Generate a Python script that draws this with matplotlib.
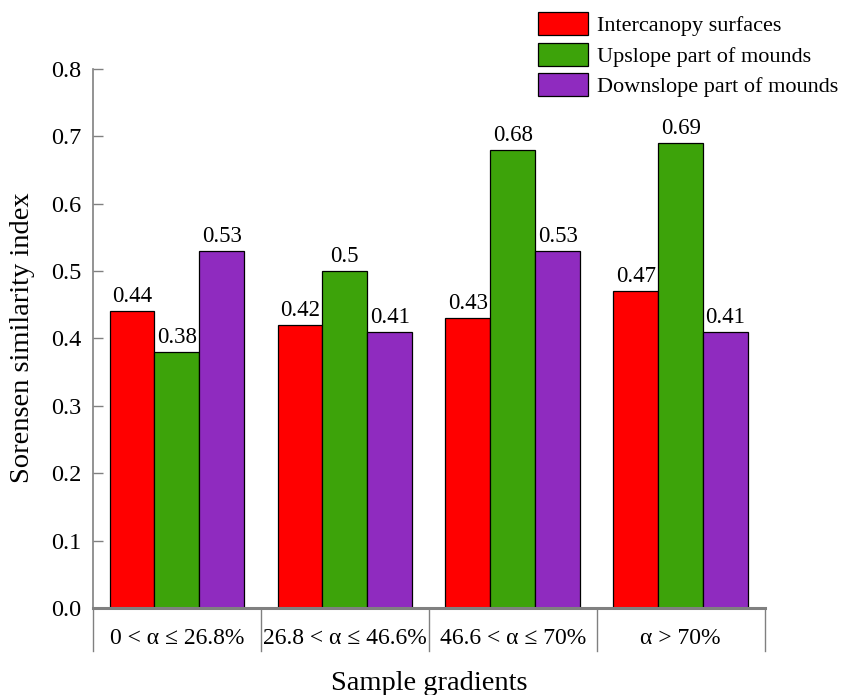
import numpy as np
import matplotlib.pyplot as plt

plt.rcParams['font.family'] = ['Liberation Serif', 'DejaVu Serif']

categories = ['0 < α ≤ 26.8%', '26.8 < α ≤ 46.6%', '46.6 < α ≤ 70%', 'α > 70%']
series_names = ['Intercanopy surfaces', 'Upslope part of mounds', 'Downslope part of mounds']
intercanopy = [0.44, 0.42, 0.43, 0.47]
upslope = [0.38, 0.50, 0.68, 0.69]
downslope = [0.53, 0.41, 0.53, 0.41]
colors = ['#ff0000', '#3da30a', '#8f2bbf']

fig = plt.figure(figsize=(8.44, 6.95), dpi=100)
ax = fig.add_axes([0.110, 0.125, 0.796, 0.776])

x = np.arange(len(categories))
w = 0.267
for i, (vals, name, c) in enumerate(zip([intercanopy, upslope, downslope], series_names, colors)):
    ax.bar(x + (i - 1) * w, vals, w, color=c, edgecolor='black', linewidth=0.9, label=name)
    for xi, v in zip(x + (i - 1) * w, vals):
        ax.text(xi, v + 0.006, '%g' % v, ha='center', va='bottom', fontsize=16.5)

ax.set_xlim(-0.5, len(categories) - 0.5)
ax.set_ylim(0, 0.8)
yt = np.arange(0, 0.81, 0.1)
ax.set_yticks(yt)
ax.set_yticklabels(['%.1f' % t for t in yt])
ax.set_xticks(x)
ax.set_xticklabels(categories)

gray = '#808080'
for s in ['top', 'right']:
    ax.spines[s].set_visible(False)
ax.spines['left'].set_color(gray)
ax.spines['bottom'].set_color(gray)
ax.spines['left'].set_linewidth(1.2)
ax.spines['bottom'].set_linewidth(2.2)
ax.tick_params(axis='y', direction='in', color=gray, length=7, width=1, labelsize=17.5, pad=8)
ax.tick_params(axis='x', length=0, labelsize=17, pad=14)

# category separators below the axis
for sx in np.arange(-0.5, len(categories), 1.0):
    ax.plot([sx, sx], [0, -0.064], color=gray, lw=1, clip_on=False)

fig.text(23 / 844, 1 - 338 / 695, 'Sorensen similarity index', fontsize=20.5,
         rotation=90, ha='center', va='center')
fig.text(0.508, 0.007, 'Sample gradients', fontsize=20.5, ha='center', va='baseline')

fig.legend(loc='upper right', bbox_to_anchor=(838 / 844, 1 - 12 / 695), fontsize=16, frameon=False,
           borderaxespad=0, borderpad=0,
           handlelength=2.25, handleheight=1.22, handletextpad=0.4, labelspacing=0.3)

fig.savefig('out.png', dpi=100)
